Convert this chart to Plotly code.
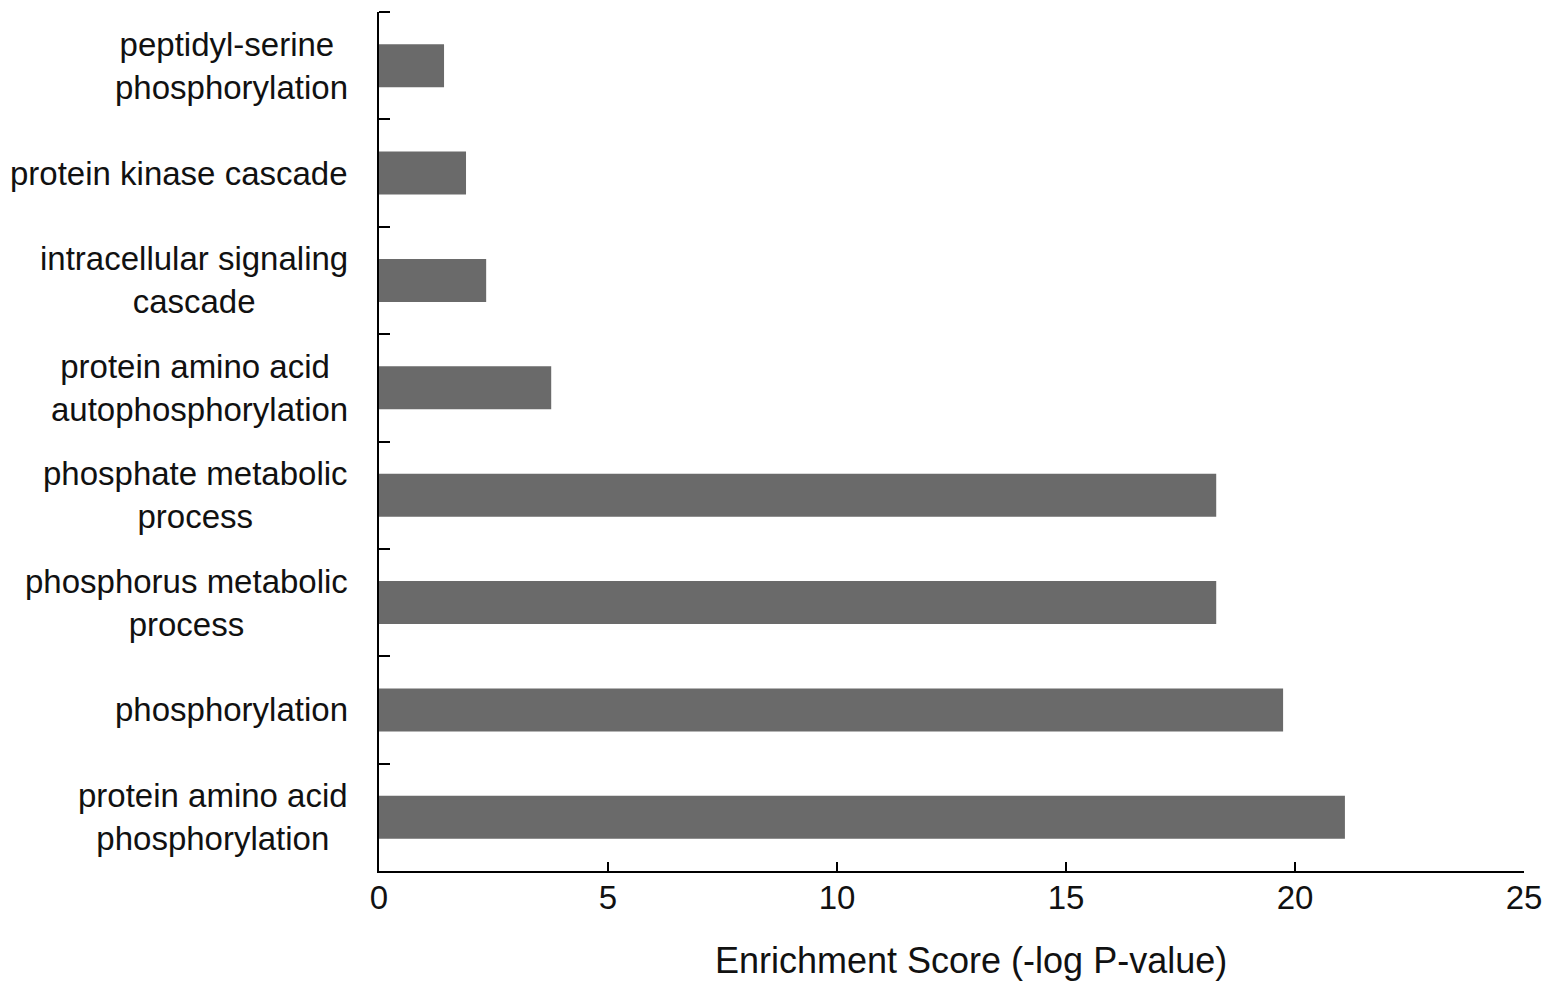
import plotly.graph_objects as go

categories = [
    "protein amino acid<br>phosphorylation",
    "phosphorylation",
    "phosphorus metabolic<br>process",
    "phosphate metabolic<br>process",
    "protein amino acid <br>autophosphorylation",
    "intracellular signaling<br>cascade",
    "protein kinase cascade",
    "peptidyl-serine <br>phosphorylation",
]
scores = [21.09, 19.74, 18.28, 18.28, 3.76, 2.34, 1.90, 1.42]
x_ticks = [0, 5, 10, 15, 20, 25]

FONT = "Liberation Sans, Arial, sans-serif"

fig = go.Figure()
fig.add_trace(go.Bar(
    x=scores, y=categories, orientation="h",
    marker=dict(color="#6a6a6a", line=dict(width=0)),
    showlegend=False,
))

for c in categories:
    fig.add_annotation(
        x=0, xref="paper", y=c, yref="y", text=c,
        xanchor="right", yanchor="middle", align="center",
        xshift=-29, showarrow=False,
        font=dict(family=FONT, size=33, color="#111111"),
    )

fig.add_annotation(
    x=0.5, xref="paper", y=0, yref="paper", yshift=-89,
    xshift=19,
    text="Enrichment Score (-log P-value)", showarrow=False,
    xanchor="center", yanchor="middle",
    font=dict(family=FONT, size=36, color="#111111"),
)

# top boundary tick of the y axis
fig.add_shape(
    type="line", xref="paper", yref="paper",
    xsizemode="pixel", xanchor=0, x0=0, x1=11, y0=1, y1=1,
    line=dict(color="black", width=2),
)

fig.update_layout(
    width=1551, height=984,
    margin=dict(l=371, r=35, t=4, b=121),
    paper_bgcolor="white", plot_bgcolor="white",
    bargap=0.6,
    font=dict(family=FONT, size=33, color="#111111"),
)
fig.update_xaxes(
    range=[0, 25], tickvals=x_ticks, ticktext=[str(v) for v in x_ticks],
    showline=True, linecolor="black", linewidth=2,
    ticks="inside", ticklen=9, tickwidth=2, tickcolor="black",
    showgrid=False, zeroline=False, ticklabelstandoff=-4,
    tickfont=dict(family=FONT, size=33, color="#111111"),
)
fig.update_yaxes(
    type="category", categoryorder="array", categoryarray=categories,
    tickson="boundaries", showticklabels=False,
    showline=True, linecolor="black", linewidth=2,
    ticks="inside", ticklen=11, tickwidth=2, tickcolor="black",
    showgrid=False, zeroline=False,
)

fig.write_html("out.html")
